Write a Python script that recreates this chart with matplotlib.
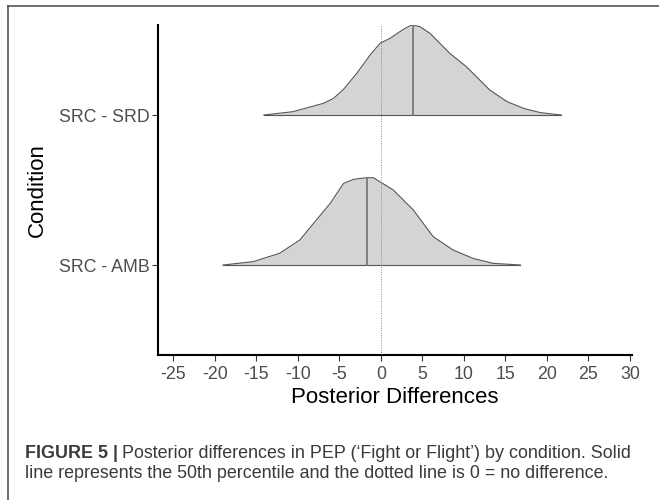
import numpy as np
import matplotlib
matplotlib.use("Agg")
import matplotlib.pyplot as plt
from matplotlib.lines import Line2D

plt.rcParams['font.family'] = ['Liberation Sans', 'DejaVu Sans']

# ---- data ----
categories = ["SRC - AMB", "SRC - SRD"]

srd_x = [-14.1, -10.6, -6.9, -5.7, -4.5, -2.9, -1.3, -0.1, 1.1, 2.7, 3.7, 4.7, 5.9, 8.3, 10.3, 13.1, 15.2, 17.2, 19.2, 21.7]
srd_h = [0.0, 0.022, 0.078, 0.111, 0.171, 0.278, 0.40, 0.478, 0.511, 0.571, 0.60, 0.589, 0.545, 0.411, 0.322, 0.167, 0.089, 0.044, 0.016, 0.0]
srd_median = 3.9

amb_x = [-19.0, -15.4, -12.2, -9.75, -8.1, -6.1, -4.5, -3.3, -1.7, -0.9, 1.5, 3.9, 6.3, 8.7, 11.1, 13.5, 16.8]
amb_h = [0.0, 0.022, 0.078, 0.167, 0.278, 0.411, 0.544, 0.571, 0.582, 0.582, 0.50, 0.367, 0.189, 0.10, 0.044, 0.011, 0.0]
amb_median = -1.7

x_ticks = [-25, -20, -15, -10, -5, 0, 5, 10, 15, 20, 25, 30]

W, H = 659, 500
fig = plt.figure(figsize=(W / 100, H / 100), dpi=100)

ax = fig.add_axes([158 / W, 1 - 355 / H, (632 - 158) / W, (355 - 25) / H])

ridges = [(1, amb_x, amb_h, amb_median), (2, srd_x, srd_h, srd_median)]
for base, xs, hs, med in reversed(ridges):
    xs = np.array(xs); hs = np.array(hs)
    ax.fill_between(xs, base, base + hs, color='#d4d4d4', lw=0, zorder=2)
    ax.plot(xs, base + hs, color='#555555', lw=0.8, zorder=3)
    ax.plot([xs[0], xs[-1]], [base, base], color='#555555', lw=0.8, zorder=3)
    mh = np.interp(med, xs, hs)
    ax.plot([med, med], [base, base + mh], color='#777777', lw=1.3, zorder=4)

ax.axvline(0, color='#888888', lw=0.7, ls=(0, (1, 1.5)), zorder=5)

ax.set_xlim(-26.84, 30.24)
ax.set_ylim(0.4, 2.6)
ax.set_xticks(x_ticks)
ax.set_xticklabels([str(t) for t in x_ticks])
ax.set_yticks([1, 2])
ax.set_yticklabels(categories)

for s in ['top', 'right']:
    ax.spines[s].set_visible(False)
for s in ['left', 'bottom']:
    ax.spines[s].set_linewidth(1.5)
    ax.spines[s].set_color('black')

ax.tick_params(axis='both', length=4, width=0.8, color='#333333',
               labelcolor='#4d4d4d', labelsize=12.8)
ax.tick_params(axis='x', pad=4)
ax.tick_params(axis='y', pad=2)
ax.set_xlabel("Posterior Differences", fontsize=16, color='black', labelpad=3)
ax.set_ylabel("Condition", fontsize=16, color='black', labelpad=8)

# outer border (top and left visible)
fig.add_artist(Line2D([8 / W, 1], [1 - 6 / H, 1 - 6 / H], transform=fig.transFigure,
                      color='#555555', lw=1.2))
fig.add_artist(Line2D([8 / W, 8 / W], [1 - 6 / H, 0], transform=fig.transFigure,
                      color='#555555', lw=1.2))

# caption
cap_size = 12.9
cap_color = '#3a3a3a'
renderer = fig.canvas.get_renderer()
t1 = fig.text(25 / W, 1 - 458 / H, "FIGURE 5 |", fontsize=cap_size, fontweight='bold',
              color=cap_color, va='baseline', ha='left')
w1 = t1.get_window_extent(renderer).width
sp = 4
fig.text((25 + w1 + sp) / W, 1 - 458 / H,
         "Posterior differences in PEP (\u2018Fight or Flight\u2019) by condition. Solid",
         fontsize=cap_size, color=cap_color, va='baseline', ha='left')
fig.text(25 / W, 1 - 478 / H,
         "line represents the 50th percentile and the dotted line is 0 = no difference.",
         fontsize=cap_size, color=cap_color, va='baseline', ha='left')

fig.savefig("out.png", dpi=100)
